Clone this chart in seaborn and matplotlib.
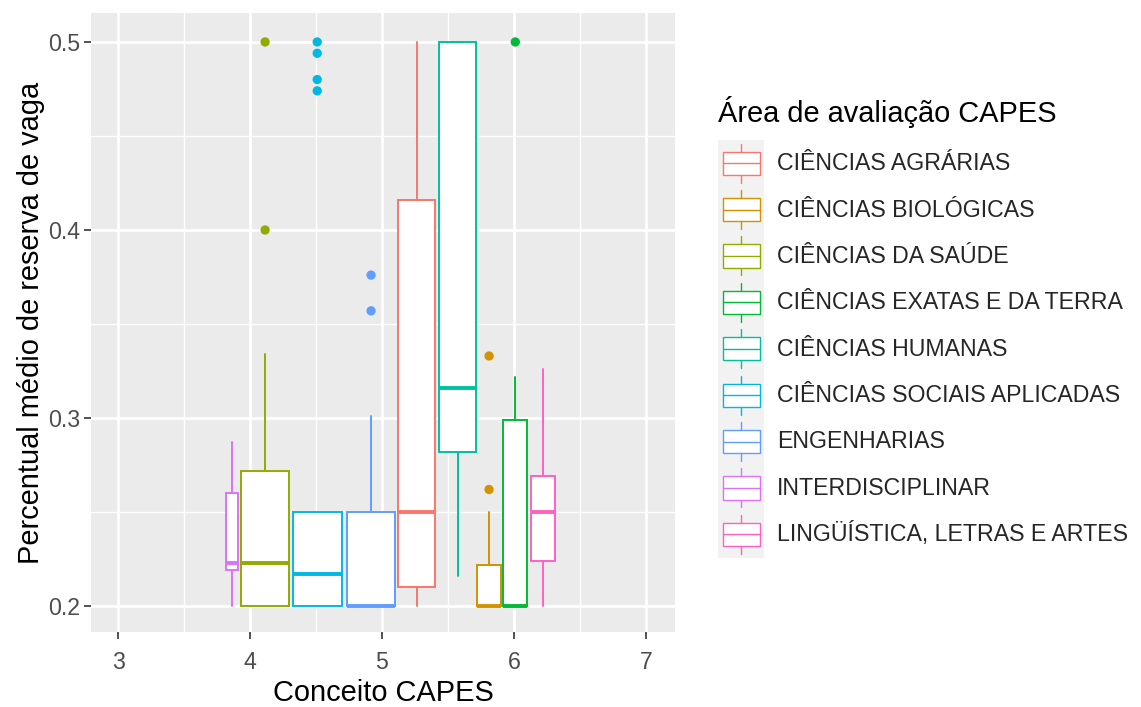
import numpy as np
import pandas as pd
import matplotlib
matplotlib.use("Agg")
import matplotlib.pyplot as plt
import matplotlib.patches as mpatches
from matplotlib.lines import Line2D
from matplotlib.legend_handler import HandlerBase
import seaborn as sns

# Input data
areas = ["CIÊNCIAS AGRÁRIAS", "CIÊNCIAS BIOLÓGICAS", "CIÊNCIAS DA SAÚDE",
         "CIÊNCIAS EXATAS E DA TERRA", "CIÊNCIAS HUMANAS",
         "CIÊNCIAS SOCIAIS APLICADAS", "ENGENHARIAS", "INTERDISCIPLINAR",
         "LINGÜÍSTICA, LETRAS E ARTES"]
colors = ["#F8766D", "#D39200", "#93AA00", "#00BA38", "#00C19F",
          "#00B9E3", "#619CFF", "#DB72FB", "#FF61C3"]

conceito = [5.263, 5.811, 4.114, 6.010, 5.572, 4.509, 4.917, 3.861, 6.222]
conceito_range = [0.307, 0.208, 0.409, 0.204, 0.307, 0.412, 0.401, 0.098, 0.199]
whis_lo = [0.200, 0.200, 0.200, 0.200, 0.216, 0.200, 0.200, 0.200, 0.200]
q1 = [0.210, 0.200, 0.200, 0.200, 0.282, 0.200, 0.200, 0.219, 0.224]
median = [0.250, 0.200, 0.223, 0.200, 0.316, 0.217, 0.200, 0.223, 0.250]
q3 = [0.416, 0.222, 0.272, 0.299, 0.500, 0.250, 0.250, 0.260, 0.269]
whis_hi = [0.500, 0.250, 0.334, 0.322, 0.500, 0.250, 0.301, 0.287, 0.326]
outliers = [[], [0.333, 0.262], [0.500, 0.400], [0.500], [],
            [0.500, 0.494, 0.480, 0.474], [0.376, 0.357], [], []]

# Theme close to ggplot's grey theme
sns.set_theme(style="darkgrid", rc={
    "axes.facecolor": "#EBEBEB",
    "grid.color": "white",
    "axes.edgecolor": "none",
})
plt.rcParams["font.family"] = ["Liberation Sans", "DejaVu Sans"]

fig = plt.figure(figsize=(11.41, 7.07), dpi=100)
W, H = 1141, 707
ax = fig.add_axes([91 / W, 1 - 632 / H, (675 - 91) / W, (632 - 13) / H])

for i, area in enumerate(areas):
    c = colors[i]
    stats = [dict(med=median[i], q1=q1[i], q3=q3[i],
                  whislo=whis_lo[i], whishi=whis_hi[i], fliers=[])]
    ax.bxp(stats, positions=[conceito[i]], widths=[conceito_range[i] * 0.9],
           patch_artist=True, showcaps=False, showfliers=False,
           boxprops=dict(facecolor="white", edgecolor=c, linewidth=1.4),
           whiskerprops=dict(color=c, linewidth=1.4),
           medianprops=dict(color=c, linewidth=2.8, solid_capstyle="butt"),
           manage_ticks=False, zorder=3)

pts = pd.DataFrame(
    [(conceito[i], v, areas[i]) for i in range(len(areas)) for v in outliers[i]],
    columns=["Conceito", "Percentual", "Area"])
sns.scatterplot(data=pts, x="Conceito", y="Percentual", hue="Area",
                palette=dict(zip(areas, colors)), s=45, edgecolor="none",
                legend=False, ax=ax, zorder=4)

ax.set_xlim(2.795, 7.22)
ax.set_ylim(0.1862, 0.5154)
ax.set_xticks([3, 4, 5, 6, 7])
ax.set_xticks([3.5, 4.5, 5.5, 6.5], minor=True)
ax.set_yticks([0.2, 0.3, 0.4, 0.5])
ax.set_yticks([0.25, 0.35, 0.45], minor=True)
ax.set_yticklabels(["0.2", "0.3", "0.4", "0.5"])
ax.grid(which="major", color="white", linewidth=2.0)
ax.grid(which="minor", color="white", linewidth=1.0)
ax.tick_params(which="major", length=5, width=1.2, color="#333333",
               labelsize=16.7, labelcolor="#4D4D4D", pad=3,
               bottom=True, left=True)
ax.tick_params(axis="x", which="major", pad=9)
ax.tick_params(which="minor", length=0)
ax.set_xlabel("Conceito CAPES", fontsize=20.9, color="black", labelpad=3)
ax.set_ylabel("Percentual médio de reserva de vaga", fontsize=20.9,
              color="black", labelpad=2)


class BoxKey(HandlerBase):
    def create_artists(self, legend, orig_handle, xdescent, ydescent,
                       width, height, fontsize, trans):
        c = orig_handle.get_edgecolor()
        x0, y0 = -xdescent, -ydescent
        bg = mpatches.Rectangle((x0, y0), width, height, facecolor="#F2F2F2",
                                edgecolor="none", transform=trans)
        box = mpatches.Rectangle((x0 + 0.1 * width, y0 + 0.25 * height),
                                 0.8 * width, 0.5 * height, facecolor="white",
                                 edgecolor=c, linewidth=1.0, transform=trans)
        cx = x0 + 0.5 * width
        mid = y0 + 0.5 * height
        med = Line2D([x0 + 0.1 * width, x0 + 0.9 * width], [mid, mid],
                     color=c, linewidth=1.0, transform=trans)
        wt = Line2D([cx, cx], [y0 + 0.75 * height, y0 + 0.92 * height],
                    color=c, linewidth=1.0, transform=trans)
        wb = Line2D([cx, cx], [y0 + 0.08 * height, y0 + 0.25 * height],
                    color=c, linewidth=1.0, transform=trans)
        return [bg, box, med, wt, wb]


handles = [mpatches.Patch(facecolor="white", edgecolor=c) for c in colors]
fig.legend(handles, areas, loc="upper left",
           bbox_to_anchor=(718 / W, 1 - 140 / H), frameon=False,
           borderpad=0, borderaxespad=0, handlelength=2, handleheight=2.7,
           labelspacing=0, handletextpad=0.55,
           handler_map={mpatches.Patch: BoxKey()},
           prop={"size": 16.7, "family": ["Liberation Sans", "DejaVu Sans"]})
fig.text(718 / W, 1 - 112 / H, "Área de avaliação CAPES", fontsize=20.9,
         ha="left", va="center", color="black")

fig.savefig("out.png", dpi=100)
